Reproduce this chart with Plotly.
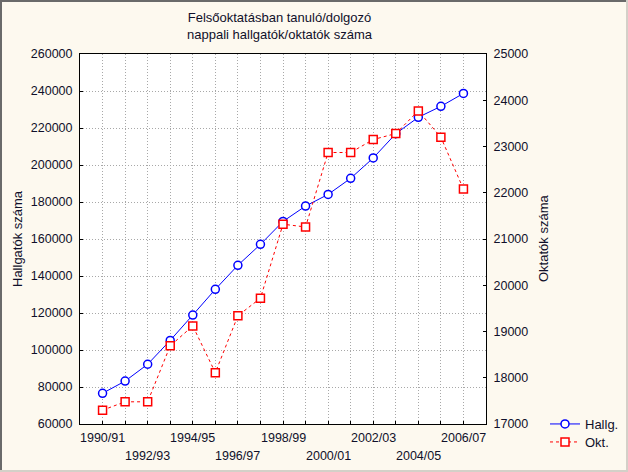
import plotly.graph_objects as go

categories = ["1990/91", "1991/92", "1992/93", "1993/94", "1994/95", "1995/96",
              "1996/97", "1997/98", "1998/99", "1999/00", "2000/01", "2001/02",
              "2002/03", "2003/04", "2004/05", "2005/06", "2006/07"]
hallg = [76600, 83200, 92300, 105200, 118900, 132800, 145800, 157100, 169500,
         177800, 184100, 192800, 203800, 216900, 225800, 231700, 238700]
okt = [17300, 17480, 17480, 18690, 19120, 18110, 19340, 19720, 21320,
       21260, 22870, 22870, 23150, 23280, 23770, 23200, 22080]
left_ticks = list(range(60000, 260001, 20000))
right_ticks = list(range(17000, 25001, 1000))

W, H = 628, 472
ML, MR, MT, MB = 80, 142, 54, 48
PW, PH = W - ML - MR, H - MT - MB

def px_x(px):
    return (px - ML) / PW

def px_y(py):
    return (H - MB - py) / PH

idx = list(range(len(categories)))
fam = "Liberation Sans, Arial, sans-serif"
col = "#10102a"
font = dict(family=fam, size=12.5, color=col)
tfont = dict(family=fam, size=13, color=col)

fig = go.Figure()
fig.add_trace(go.Scatter(
    x=idx, y=hallg, name="Hallg.", mode="lines+markers", legend="legend",
    line=dict(color="#0000ff", width=1),
    marker=dict(symbol="circle", size=8, color="white",
                line=dict(color="#0000ff", width=1.5)),
))
fig.add_trace(go.Scatter(
    x=idx, y=okt, name="Okt.", mode="lines+markers", yaxis="y2", legend="legend2",
    line=dict(color="#ff0000", width=1, dash="3px,3px"),
    marker=dict(symbol="square", size=8, color="white",
                line=dict(color="#ff0000", width=1.5)),
))

annotations = []
for i, lab in enumerate(categories):
    if i % 2 == 0:
        row = (i // 2) % 2
        py = 438 if row == 0 else 456
        annotations.append(dict(x=i, y=px_y(py), xref="x", yref="paper",
                                text=lab, showarrow=False, font=font,
                                xanchor="center", yanchor="middle"))
annotations.append(dict(x=px_x(280), y=px_y(26.5), xref="paper", yref="paper",
                        text="Felsőoktatásban tanuló/dolgozó<br>nappali hallgatók/oktatók száma",
                        showarrow=False, font=tfont, xanchor="center", yanchor="middle"))
annotations.append(dict(x=px_x(17), y=px_y(239), xref="paper", yref="paper",
                        text="Hallgatók száma", textangle=-90, showarrow=False,
                        font=tfont, xanchor="center", yanchor="middle"))
annotations.append(dict(x=px_x(543), y=px_y(239), xref="paper", yref="paper",
                        text="Oktatók száma", textangle=-90, showarrow=False,
                        font=tfont, xanchor="center", yanchor="middle"))

shapes = [
    dict(type="line", xref="paper", yref="paper", x0=px_x(1), x1=px_x(1),
         y0=px_y(0), y1=px_y(H), line=dict(color="#6a6a6a", width=2)),
    dict(type="line", xref="paper", yref="paper", x0=px_x(0), x1=px_x(W),
         y0=px_y(1), y1=px_y(1), line=dict(color="#6a6a6a", width=2)),
    dict(type="line", xref="paper", yref="paper", x0=px_x(W - 1), x1=px_x(W - 1),
         y0=px_y(0), y1=px_y(H), line=dict(color="#d4d0c8", width=2)),
    dict(type="line", xref="paper", yref="paper", x0=px_x(0), x1=px_x(W),
         y0=px_y(H - 1), y1=px_y(H - 1), line=dict(color="#d4d0c8", width=2)),
]

leg_common = dict(xref="container", yref="container", xanchor="left", yanchor="middle",
                  bgcolor="rgba(0,0,0,0)", font=tfont, itemwidth=30, tracegroupgap=0)

fig.update_layout(
    width=W, height=H,
    margin=dict(l=ML, r=MR, t=MT, b=MB),
    paper_bgcolor="#fdf9ef", plot_bgcolor="white",
    font=font,
    showlegend=True,
    legend=dict(x=545 / W, y=1 - 424 / H, **leg_common),
    legend2=dict(x=545 / W, y=1 - 442 / H, **leg_common),
    xaxis=dict(range=[-1, len(categories)], tickvals=idx,
               ticktext=[""] * len(idx), ticks="inside", ticklen=3,
               tickcolor="black", showline=True, linecolor="black", linewidth=1,
               mirror=True, showgrid=True, gridcolor="#a8a8a8", griddash="1px,2px",
               gridwidth=1, zeroline=False, fixedrange=True),
    yaxis=dict(range=[60000, 260000], tickvals=left_ticks,
               ticktext=[str(v) for v in left_ticks], ticks="inside", ticklen=3,
               tickcolor="black", showline=True, linecolor="black", linewidth=1,
               mirror=True, showgrid=True, gridcolor="#a8a8a8", griddash="1px,2px",
               gridwidth=1, zeroline=False, tickfont=font, ticklabelstandoff=4),
    yaxis2=dict(range=[17000, 25000], tickvals=right_ticks,
                ticktext=[str(v) for v in right_ticks], overlaying="y", side="right",
                ticks="inside", ticklen=3, tickcolor="black", showline=True,
                linecolor="black", linewidth=1, showgrid=False, zeroline=False,
                tickfont=font, ticklabelstandoff=4),
    annotations=annotations,
    shapes=shapes,
)

fig.write_html("out.html")
